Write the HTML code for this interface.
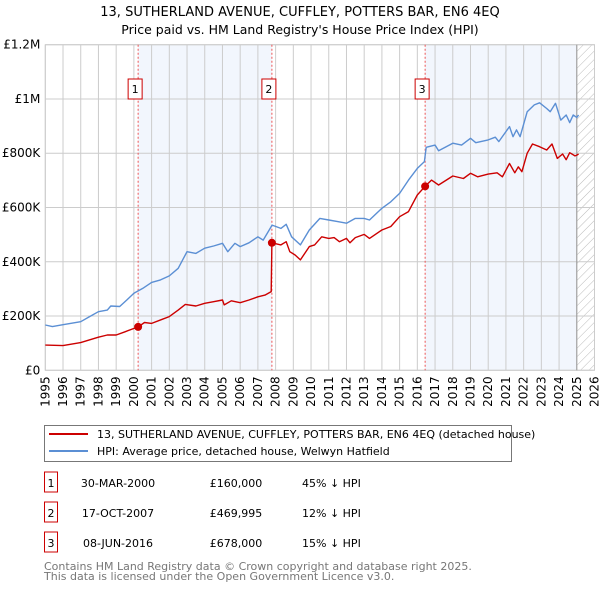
<!DOCTYPE html>
<html><head><meta charset="utf-8">
<style>
body{margin:0;background:#fff;width:600px;height:590px;overflow:hidden;font-family:"DejaVu Sans","Liberation Sans",sans-serif;}
svg text{font-family:"DejaVu Sans","Liberation Sans",sans-serif;}
</style></head>
<body>
<svg id="c" width="600" height="590" xmlns="http://www.w3.org/2000/svg">
<text x="300" y="16" text-anchor="middle" font-size="13" fill="#000">13, SUTHERLAND AVENUE, CUFFLEY, POTTERS BAR, EN6 4EQ</text>
<text x="300" y="34" text-anchor="middle" font-size="12.5" fill="#000">Price paid vs. HM Land Registry's House Price Index (HPI)</text>
<g id="plot"></g>
<g>
<rect x="44.5" y="425.5" width="467" height="36" fill="#fff" stroke="#777" stroke-width="1"/>
<line x1="49" y1="434" x2="88" y2="434" stroke="#cc0000" stroke-width="2"/>
<text x="97" y="438" font-size="11">13, SUTHERLAND AVENUE, CUFFLEY, POTTERS BAR, EN6 4EQ (detached house)</text>
<line x1="49" y1="451" x2="88" y2="451" stroke="#5b8fd4" stroke-width="2"/>
<text x="97" y="455" font-size="11">HPI: Average price, detached house, Welwyn Hatfield</text>
</g>
<g id="tbl" font-size="11"></g>
<text x="44" y="570" font-size="11" fill="#777">Contains HM Land Registry data © Crown copyright and database right 2025.</text>
<text x="44" y="580" font-size="11" fill="#777">This data is licensed under the Open Government Licence v3.0.</text>
</svg>
<script>
const hpiYears=[1995,1995.4,1996,1997,1997.5,1998,1998.5,1998.7,1999.2,1999.6,2000,2000.5,2001,2001.5,2002,2002.5,2003,2003.5,2004,2004.5,2005,2005.3,2005.7,2006,2006.5,2007,2007.3,2007.8,2008.3,2008.6,2008.9,2009.4,2009.9,2010.5,2011,2011.5,2012,2012.5,2013,2013.3,2014,2014.5,2015,2015.5,2016,2016.4,2016.5,2017,2017.2,2018,2018.5,2019,2019.3,2020,2020.4,2020.6,2021.2,2021.4,2021.6,2021.8,2022.2,2022.6,2022.9,2023.3,2023.5,2023.8,2024.1,2024.4,2024.6,2024.8,2025.0,2025.1];
const hpiValues=[167,161,168,179,198,216,222,237,235,259,284,302,324,333,348,376,437,431,450,458,468,437,468,456,470,492,480,535,523,538,492,462,517,560,554,548,542,560,560,554,597,621,652,701,744,769,822,830,809,837,830,855,839,849,859,843,898,861,886,861,953,978,986,965,953,984,922,941,913,941,932,941];
const priceYears=[1995,1996,1997,1998,1998.5,1999,1999.5,2000.24,2000.6,2001,2001.6,2002,2002.5,2002.9,2003.5,2004,2004.5,2005,2005.1,2005.5,2006,2006.5,2007,2007.4,2007.75,2007.79,2008.3,2008.6,2008.8,2009.1,2009.4,2009.9,2010.2,2010.6,2011,2011.3,2011.6,2012,2012.2,2012.5,2013,2013.3,2014,2014.5,2015,2015.5,2016,2016.44,2016.8,2017.2,2018,2018.6,2019,2019.4,2020,2020.5,2020.8,2021.2,2021.5,2021.7,2021.9,2022.2,2022.5,2022.9,2023.3,2023.6,2023.9,2024.2,2024.4,2024.6,2024.9,2025.0,2025.1];
const priceValues=[93,91,102,122,130,130,142,160,176,173,188,198,222,243,237,247,253,259,241,256,249,259,271,277,290,470,462,474,437,425,407,456,462,492,486,489,474,486,470,489,501,486,517,530,566,585,646,678,701,683,716,707,726,713,723,728,713,762,728,750,732,800,834,824,812,834,781,797,776,802,790,793,797];
const saleYears=[2000.24,2007.79,2016.44];
const saleValues=[160,469.995,678];
const saleLabels=["1","2","3"];
const saleDates=["30-MAR-2000","17-OCT-2007","08-JUN-2016"];
const salePrices=["£160,000","£469,995","£678,000"];
const saleDiffs=["45% ↓ HPI","12% ↓ HPI","15% ↓ HPI"];
const yTicks=[0,200,400,600,800,1000,1200];
const yTickLabels=["£0","£200K","£400K","£600K","£800K","£1M","£1.2M"];
const xTicks=[1995,1996,1997,1998,1999,2000,2001,2002,2003,2004,2005,2006,2007,2008,2009,2010,2011,2012,2013,2014,2015,2016,2017,2018,2019,2020,2021,2022,2023,2024,2025,2026];

const L=45.3,R=594.5,T=44.7,B=370.3,X0=1995,X1=2026,YMAX=1200;
const xs=y=>L+(y-X0)/(X1-X0)*(R-L);
const ys=v=>B-v/YMAX*(B-T);
const NS="http://www.w3.org/2000/svg";
function mk(tag,attrs,parent){const e=document.createElementNS(NS,tag);for(const k in attrs)e.setAttribute(k,attrs[k]);parent.appendChild(e);return e;}
const g=document.getElementById('plot');
for(let i=0;i<saleYears.length;i++){
  const end=i+1<saleYears.length?saleYears[i+1]:2025.0;
  if(i===0||i===2){
    const r=mk('rect',{x:xs(saleYears[i]),y:T,width:xs(end)-xs(saleYears[i]),height:B-T,fill:'#eef3fc',opacity:0.75},g);
    
    
  }
}
const defs=mk('defs',{},g);
const pat=mk('pattern',{id:'hatch',width:6,height:6,patternUnits:'userSpaceOnUse',patternTransform:'rotate(45)'},defs);
mk('line',{x1:0,y1:0,x2:0,y2:6,stroke:'#bbb','stroke-width':1},pat);
const hr=mk('rect',{x:xs(2025.0),y:T,width:R-xs(2025.0),height:B-T,fill:'url(#hatch)'},g);


xTicks.forEach(t=>{
  const l=mk('line',{x1:xs(t),y1:T,x2:xs(t),y2:B,stroke:'#cccccc','stroke-width':1},g);
  
  
  const tx=mk('text',{x:0,y:0,'font-size':12,'text-anchor':'end',transform:`translate(${xs(t)+4},${B+6}) rotate(-90)`},g);
  tx.textContent=t;
  
  
});
yTicks.forEach((t,i)=>{
  const l=mk('line',{x1:L,y1:ys(t),x2:R,y2:ys(t),stroke:'#cccccc','stroke-width':1},g);
  
  
  const tx=mk('text',{x:L-5,y:ys(t)+4,'font-size':12,'text-anchor':'end'},g);
  tx.textContent=yTickLabels[i];
  
  
});
const fr=mk('rect',{x:L,y:T,width:R-L,height:B-T,fill:'none',stroke:'#cccccc'},g);


mk('line',{x1:xs(2025.0),y1:T,x2:xs(2025.0),y2:B,stroke:'#999','stroke-width':1},g);
saleYears.forEach((s,i)=>{
  const l=mk('line',{x1:xs(s),y1:T,x2:xs(s),y2:B,stroke:'#ee5555','stroke-width':1,'stroke-dasharray':'2,2'},g);
  
  
  const bx=mk('rect',{x:xs(s)-10,y:79,width:14,height:20,fill:'#fff',stroke:'#cc0000'},g);
  
  
  const t=mk('text',{x:xs(s)-3,y:93,'font-size':11,'text-anchor':'middle'},g);
  t.textContent=saleLabels[i];
  
  
});
function path(xsArr,vs,color,name){
  const d=xsArr.map((y,i)=>(i?'L':'M')+xs(y).toFixed(1)+','+ys(vs[i]).toFixed(1)).join('');
  const p=mk('path',{d:d,fill:'none',stroke:color,'stroke-width':1.4,'stroke-linejoin':'round'},g);
  
  
}
path(hpiYears,hpiValues,'#5b8fd4','hpi-line');
path(priceYears,priceValues,'#cc0000','price-paid-line');
saleYears.forEach((s,i)=>{
  const c=mk('circle',{cx:xs(s),cy:ys(saleValues[i]),r:4,fill:'#cc0000'},g);
  
  
});
const tb=document.getElementById('tbl');
saleLabels.forEach((lab,i)=>{
  const y=483+i*30;
  const b=mk('rect',{x:44.5,y:y-11,width:13,height:20,fill:'#fff',stroke:'#cc0000'},tb);
  
  
  const vals=[[lab,51,'middle'],[saleDates[i],118,'middle'],[salePrices[i],236,'middle'],[saleDiffs[i],302,'start']];
  vals.forEach(v=>{
    const t=mk('text',{x:v[1],y:y+4,'text-anchor':v[2]},tb);
    t.textContent=v[0];
    
    
  });
});
</script>
</body></html>
